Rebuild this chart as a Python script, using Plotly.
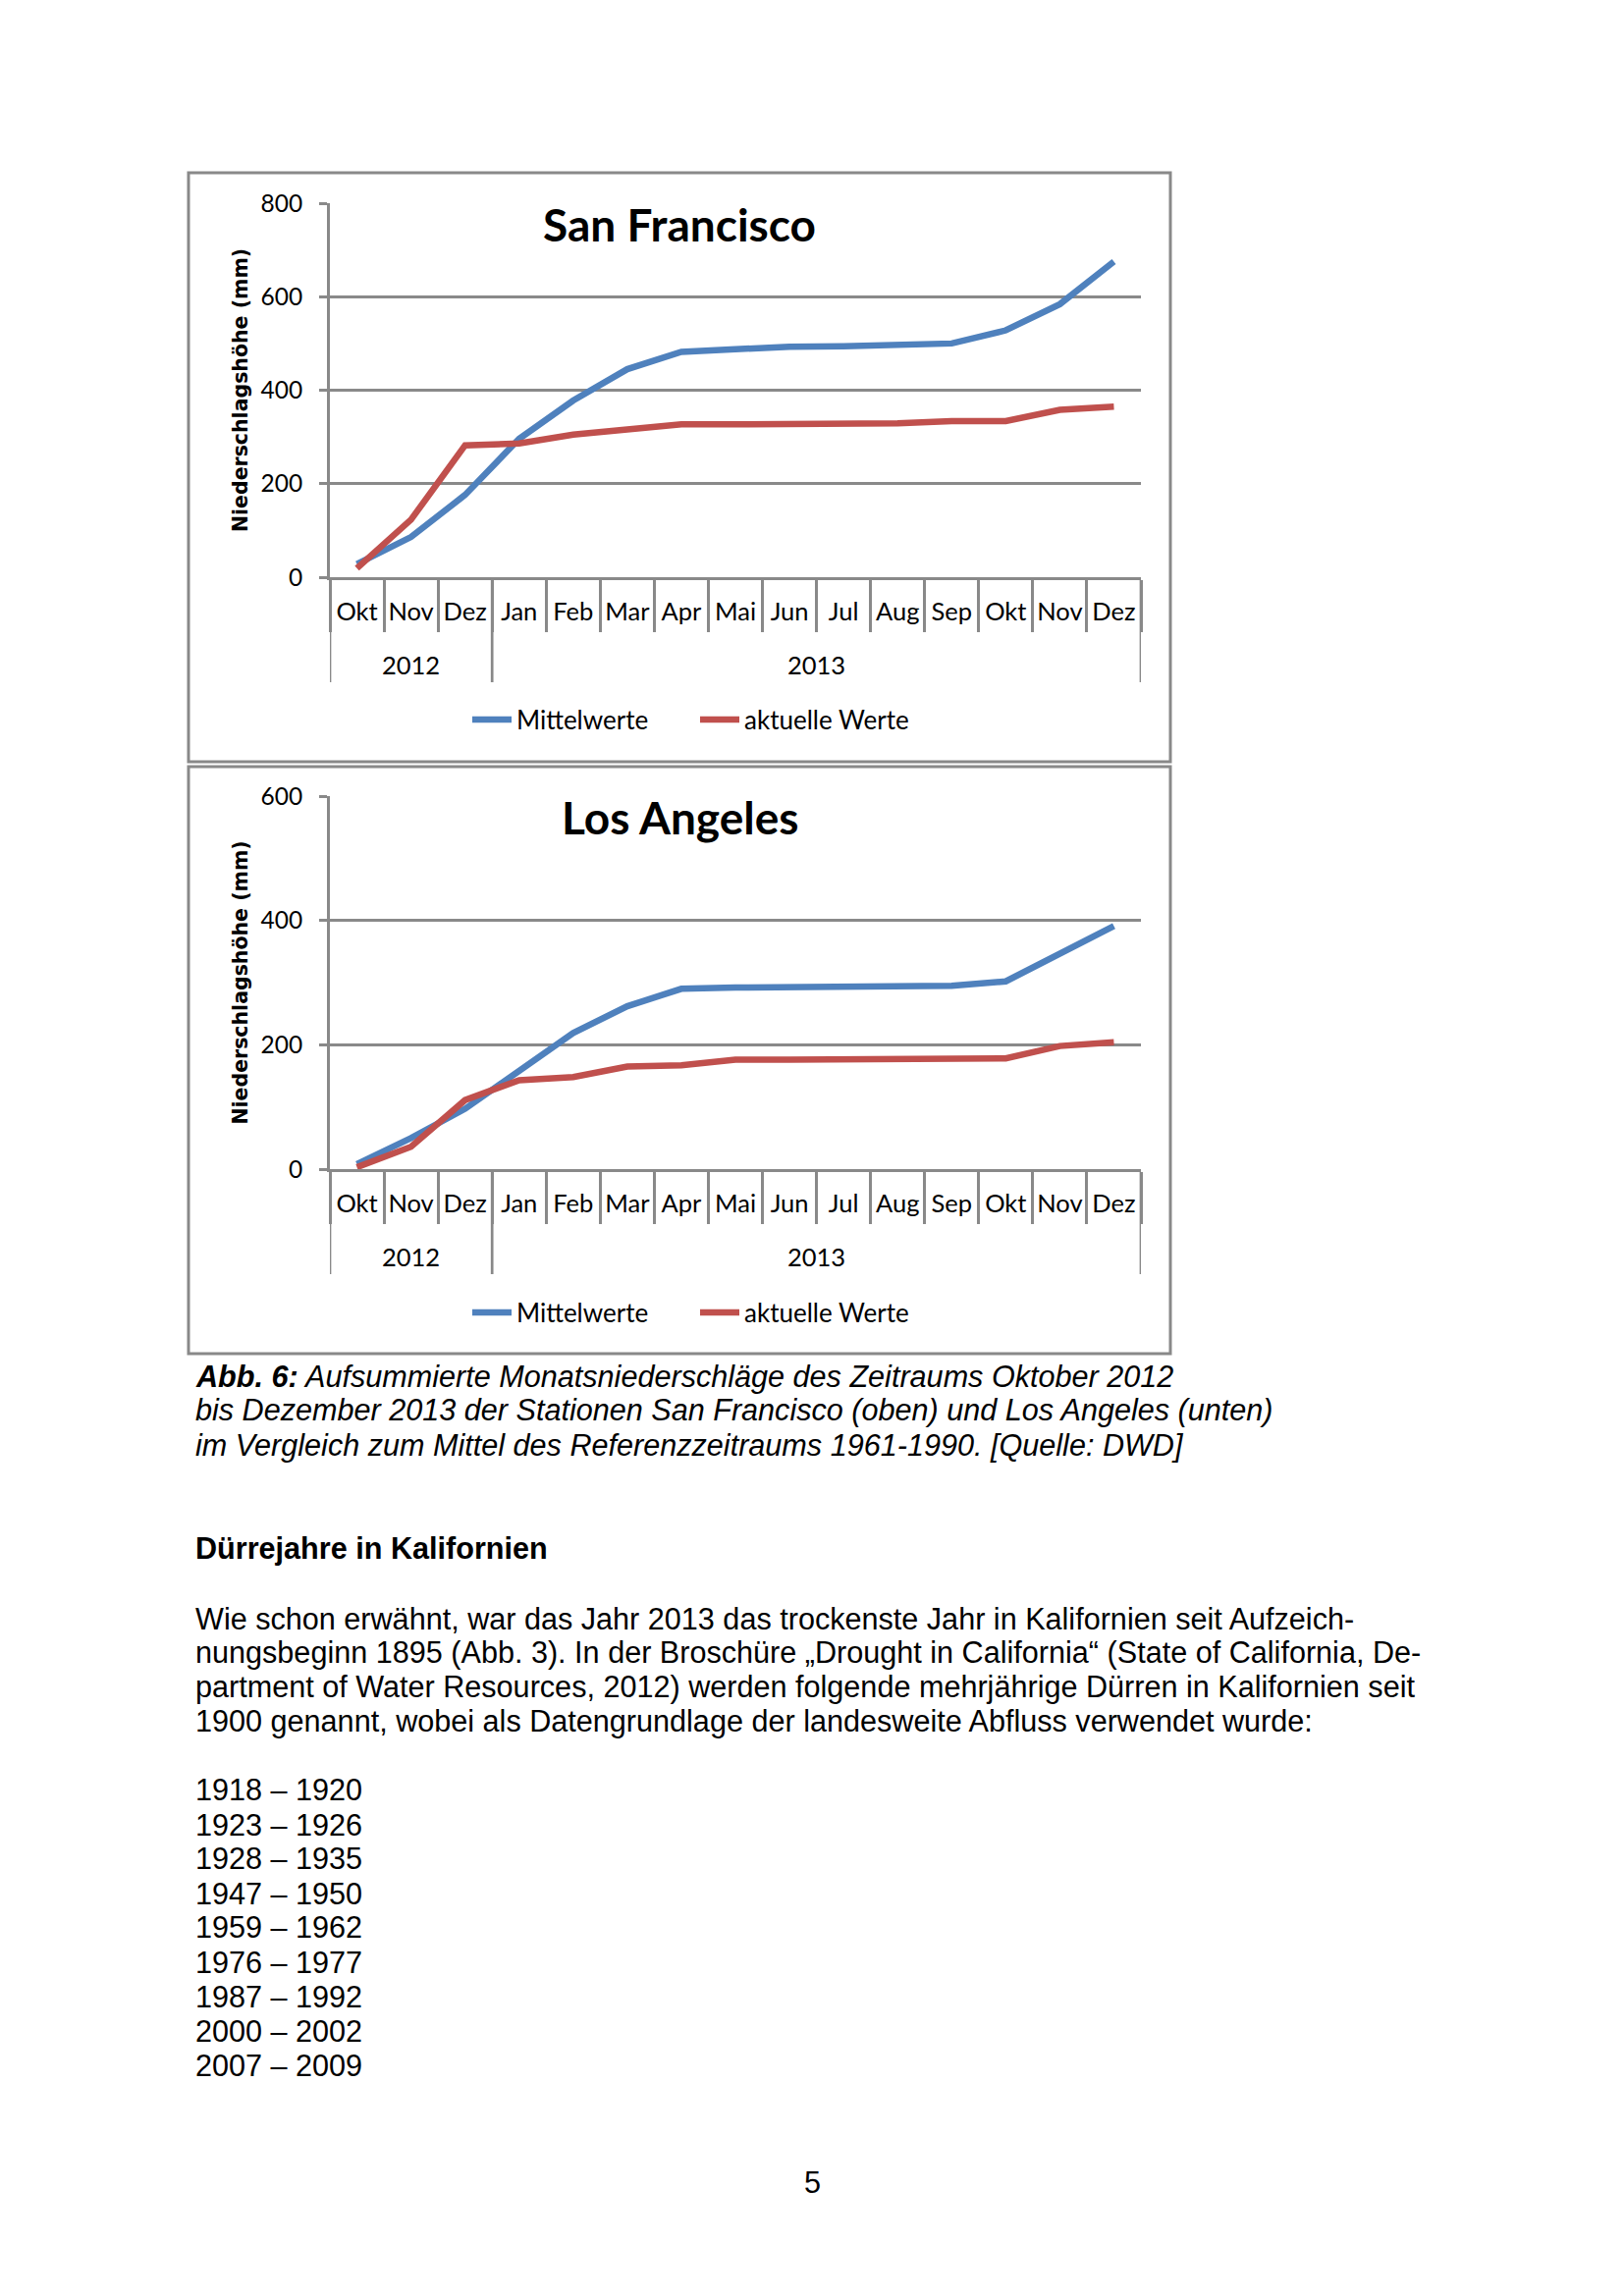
import plotly.graph_objects as go

# ---------------- data ----------------
months = ["Okt", "Nov", "Dez", "Jan", "Feb", "Mar", "Apr", "Mai",
          "Jun", "Jul", "Aug", "Sep", "Okt", "Nov", "Dez"]
years = ["2012", "2012", "2012", "2013", "2013", "2013", "2013", "2013",
         "2013", "2013", "2013", "2013", "2013", "2013", "2013"]

sf_mittel = [28, 86, 176, 296, 378, 445, 482, 489, 493, 494, 496, 500, 528, 584, 675]
sf_aktuell = [19, 123, 282, 286, 305, 316, 327, 327, 327, 327, 329, 334, 334, 358, 365]
la_mittel = [8, 50, 97, 159, 219, 262, 290, 292, 293, 293, 293, 295, 302, 346, 391]
la_aktuell = [3, 36, 111, 143, 148, 165, 167, 176, 176, 176, 176, 176, 178, 198, 204]

series_names = ["Mittelwerte", "aktuelle Werte"]
titles = ["San Francisco", "Los Angeles"]
y_title = "Niederschlagshöhe (mm)"
sf_yticks = [0, 200, 400, 600, 800]
la_yticks = [0, 200, 400, 600]

caption_lines = [
    "<b><i>Abb. 6:</i></b><i> Aufsummierte Monatsniederschläge des Zeitraums Oktober 2012</i>",
    "<i>bis Dezember 2013 der Stationen San Francisco (oben) und Los Angeles (unten)</i>",
    "<i>im Vergleich zum Mittel des Referenzzeitraums 1961-1990. [Quelle: DWD]</i>",
]
heading = "<b>Dürrejahre in Kalifornien</b>"
paragraph_lines = [
    "Wie schon erwähnt, war das Jahr 2013 das trockenste Jahr in Kalifornien seit Aufzeich-",
    "nungsbeginn 1895 (Abb. 3). In der Broschüre „Drought in California“ (State of California, De-",
    "partment of Water Resources, 2012) werden folgende mehrjährige Dürren in Kalifornien seit",
    "1900 genannt, wobei als Datengrundlage der landesweite Abfluss verwendet wurde:",
]
drought_periods = ["1918 – 1920", "1923 – 1926", "1928 – 1935", "1947 – 1950", "1959 – 1962",
                   "1976 – 1977", "1987 – 1992", "2000 – 2002", "2007 – 2009"]
page_number = "5"

# ---------------- style ----------------
W, H = 1654, 2339
BLUE = "#4F81BD"
RED = "#C0504D"
GRID = "#898989"
CHART_FONT = "Lato"
BODY_FONT = "Liberation Sans"
BODY_SIZE = 30.6


def fx(v):
    return v / W


def fy(v):
    return 1 - v / H


x_idx = list(range(len(months)))
boundaries = [i - 0.5 for i in range(len(months) + 1)]
year_bounds = [-0.5] + [i - 0.5 for i in range(1, len(years)) if years[i] != years[i - 1]] + [len(years) - 0.5]
year_groups = []
for yname in dict.fromkeys(years):
    idx = [i for i, v in enumerate(years) if v == yname]
    year_groups.append((yname, sum(idx) / len(idx)))

charts = [
    dict(title=titles[0], data=[sf_mittel, sf_aktuell], yticks=sf_yticks,
         frame=(192, 176, 1192, 776), plot=(336, 207, 1162, 588),
         title_y=228, year_y=677, div_y=695, legend_y=733),
    dict(title=titles[1], data=[la_mittel, la_aktuell], yticks=la_yticks,
         frame=(192, 781, 1192, 1379), plot=(336, 811, 1162, 1191),
         title_y=833, year_y=1280, div_y=1298, legend_y=1337),
]

fig = go.Figure()
shapes = []
annotations = []
layout_axes = {}

for k, ch in enumerate(charts):
    sfx = "" if k == 0 else str(k + 1)
    xa, ya = "x" + sfx, "y" + sfx
    leg = "legend" if k == 0 else "legend" + str(k + 1)
    for vals, name, col in zip(ch["data"], series_names, [BLUE, RED]):
        fig.add_trace(go.Scatter(x=x_idx, y=vals, mode="lines", name=name,
                                 line=dict(color=col, width=6.5),
                                 xaxis=xa, yaxis=ya, legend=leg, hoverinfo="skip"))
    px0, py0, px1, py1 = ch["plot"]
    layout_axes["xaxis" + sfx] = dict(
        domain=[fx(px0), fx(px1)], anchor=ya, range=[-0.5, len(months) - 0.5],
        tickmode="array", tickvals=x_idx, ticktext=months, ticks="",
        showline=True, linecolor=GRID, linewidth=2.7, showgrid=False, zeroline=False,
        tickfont=dict(family=CHART_FONT, size=25.5, color="black"),
        ticklabelstandoff=11, automargin=False,
        minor=dict(tickmode="array", tickvals=boundaries, ticks="outside",
                   ticklen=53, tickcolor=GRID, tickwidth=2.7, showgrid=False),
        fixedrange=True,
    )
    layout_axes["yaxis" + sfx] = dict(
        domain=[fy(py1), fy(py0)], anchor=xa, range=[ch["yticks"][0], ch["yticks"][-1]],
        tickmode="array", tickvals=ch["yticks"], showline=True, linecolor=GRID, linewidth=2.7,
        showgrid=True, gridcolor=GRID, gridwidth=2.7, zeroline=False,
        ticks="outside", ticklen=8, tickcolor=GRID, tickwidth=2.7,
        tickfont=dict(family=CHART_FONT, size=24.5, color="black"), ticklabelstandoff=12,
        title=dict(text="<b>" + y_title + "</b>", font=dict(family="DejaVu Sans", size=20.5, color="black"),
                   standoff=8),
        automargin=False, fixedrange=True,
    )
    # chart frame
    f0, g0, f1, g1 = ch["frame"]
    shapes.append(dict(type="rect", xref="paper", yref="paper", x0=fx(f0), x1=fx(f1),
                       y0=fy(g1), y1=fy(g0), line=dict(color=GRID, width=3)))
    # year dividers
    for b in year_bounds:
        shapes.append(dict(type="line", xref=xa, yref="paper", x0=b, x1=b,
                           y0=fy(py1), y1=fy(ch["div_y"]), line=dict(color=GRID, width=2.7)))
    # year labels
    for yname, cx in year_groups:
        annotations.append(dict(text=yname, xref=xa, yref="paper", x=cx, y=fy(ch["year_y"]),
                                xanchor="center", yanchor="middle", showarrow=False,
                                font=dict(family=CHART_FONT, size=25.5, color="black")))
    # title
    annotations.append(dict(text="<b>" + ch["title"] + "</b>", xref="paper", yref="paper",
                            x=fx(692), y=fy(ch["title_y"]), xanchor="center", yanchor="middle",
                            showarrow=False, font=dict(family=CHART_FONT, size=46, color="black")))
    layout_axes[leg] = dict(orientation="h", x=fx(708), y=fy(ch["legend_y"]), xanchor="center",
                            yanchor="middle", font=dict(family=CHART_FONT, size=26, color="black"),
                            bgcolor="rgba(0,0,0,0)", itemwidth=40, entrywidth=177)

# caption
cap_y = [1402, 1437, 1472]
for t, yy in zip(caption_lines, cap_y):
    annotations.append(dict(text=t, xref="paper", yref="paper", x=fx(197), y=fy(yy),
                            xanchor="left", yanchor="middle", showarrow=False,
                            font=dict(family=BODY_FONT, size=BODY_SIZE, color="black")))
annotations.append(dict(text=heading, xref="paper", yref="paper", x=fx(197), y=fy(1577),
                        xanchor="left", yanchor="middle", showarrow=False,
                        font=dict(family=BODY_FONT, size=BODY_SIZE, color="black")))
par_y = [1649, 1683, 1718, 1753]
for t, yy in zip(paragraph_lines, par_y):
    annotations.append(dict(text=t, xref="paper", yref="paper", x=fx(197), y=fy(yy),
                            xanchor="left", yanchor="middle", showarrow=False,
                            font=dict(family=BODY_FONT, size=BODY_SIZE, color="black")))
list_y = [1823, 1859, 1893, 1929, 1963, 1999, 2034, 2069, 2104]
for t, yy in zip(drought_periods, list_y):
    annotations.append(dict(text=t, xref="paper", yref="paper", x=fx(197), y=fy(yy),
                            xanchor="left", yanchor="middle", showarrow=False,
                            font=dict(family=BODY_FONT, size=BODY_SIZE, color="black")))
annotations.append(dict(text=page_number, xref="paper", yref="paper", x=fx(827), y=fy(2223),
                        xanchor="center", yanchor="middle", showarrow=False,
                        font=dict(family=BODY_FONT, size=BODY_SIZE, color="black")))

fig.update_layout(
    width=W, height=H, margin=dict(l=0, r=0, t=0, b=0, pad=0, autoexpand=False),
    paper_bgcolor="white", plot_bgcolor="rgba(0,0,0,0)",
    shapes=shapes, annotations=annotations, showlegend=True,
    **layout_axes,
)

fig.write_html("out.html", config={"displayModeBar": False},
               post_script="document.body.style.margin='0px';")
